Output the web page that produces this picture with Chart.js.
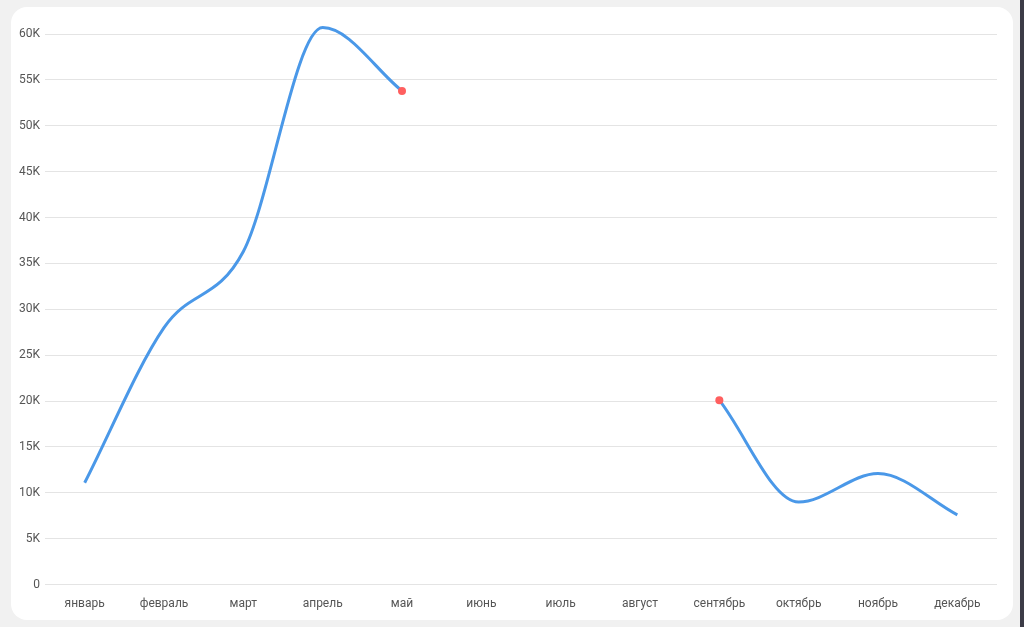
<!DOCTYPE html>
<html lang="ru">
<head>
<meta charset="UTF-8">
<title>Продажи по месяцам</title>
<script src="https://cdn.jsdelivr.net/npm/chart.js"></script>
<style>
  html, body { margin: 0; padding: 0; background: #f1f1f1; width: 1024px; height: 627px; overflow: hidden; }
  .card { position: absolute; left: 11px; top: 7px; width: 1002px; height: 613px; background: #fff; border-radius: 16px; }
  .plot { position: absolute; left: 0; top: 0; width: 1002px; height: 626px; }
  .edge { position: absolute; left: 1020px; top: 0; width: 4px; height: 627px; background: #3c3b47; }
</style>
</head>
<body>
<div class="card"><div class="plot"><canvas id="chart"></canvas></div></div>
<div class="edge"></div>
<script>
  // months and values (null = no data)
  const months = ['январь', 'февраль', 'март', 'апрель', 'май', 'июнь', 'июль', 'август', 'сентябрь', 'октябрь', 'ноябрь', 'декабрь'];
  const sales = [11100, 28000, 36300, 60700, 53800, null, null, null, 20100, 9000, 12100, 7600];

  // a dot only where the line stops before a gap / starts after one
  const edgeRadius = (ctx) => {
    const i = ctx.dataIndex;
    const prev = sales[i - 1], next = sales[i + 1];
    if (sales[i] === null) return 0;
    return (prev === null || next === null) ? 4 : 0;
  };

  new Chart(document.getElementById('chart'), {
    type: 'line',
    data: {
      labels: months,
      datasets: [{
        data: sales,
        borderColor: '#4a98e8',
        borderWidth: 3,
        cubicInterpolationMode: 'monotone',
        fill: false,
        spanGaps: false,
        clip: false,
        pointRadius: edgeRadius,
        pointHoverRadius: edgeRadius,
        pointBackgroundColor: '#ff5f5f',
        pointBorderColor: '#ff5f5f',
        pointBorderWidth: 0
      }]
    },
    options: {
      responsive: true,
      maintainAspectRatio: false,
      animation: false,
      layout: { padding: { left: 3, right: 16, top: 27, bottom: 10 } },
      plugins: { legend: { display: false }, tooltip: { enabled: false } },
      scales: {
        x: {
          offset: true,
          grid: { display: false, drawTicks: false },
          border: { display: false },
          ticks: { color: '#555', padding: 12, font: { family: 'Roboto', size: 12 } }
        },
        y: {
          min: 0,
          max: 60000,
          border: { display: false },
          grid: { color: '#e4e4e4', drawTicks: false },
          ticks: {
            stepSize: 5000,
            padding: 5,
            color: '#555',
            font: { family: 'Roboto', size: 12 },
            callback: (v) => v === 0 ? '0' : (v / 1000) + 'K'
          }
        }
      }
    }
  });
</script>
</body>
</html>
